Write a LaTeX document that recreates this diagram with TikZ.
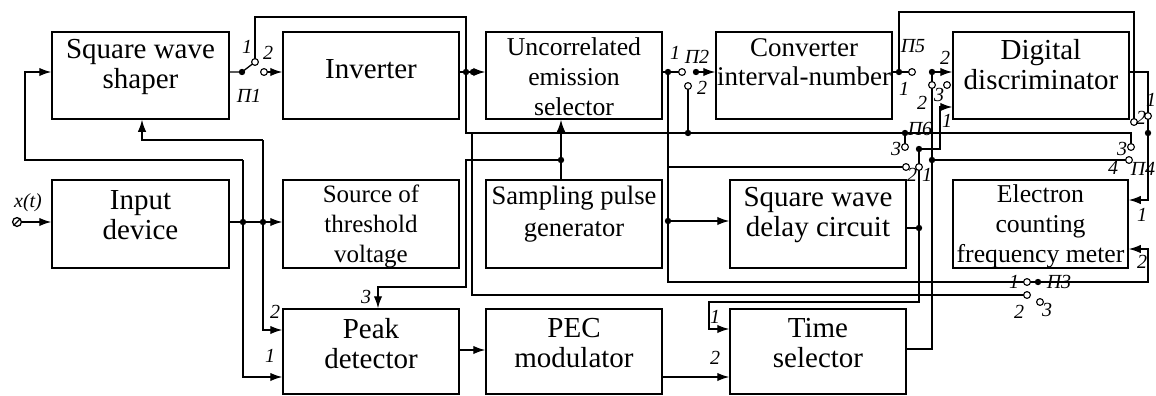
\documentclass[tikz,border=0pt]{standalone}
\usepackage{fontspec}
\setmainfont{Liberation Serif}
\usetikzlibrary{arrows.meta}
\begin{document}
\begin{tikzpicture}[x=0.5pt,y=-0.5pt,
  box/.style={draw,line width=0.75pt,inner sep=0pt},
  txt/.style={inner sep=0pt,align=center},
  big/.style={font=\fontsize{14.5}{15}\selectfont},
  wire/.style={line width=0.65pt},
  arr/.style={line width=0.65pt,-{Latex[length=6pt,width=4.2pt]}},
  lab/.style={inner sep=0pt,font=\fontsize{10}{10}\selectfont\itshape},
]
\useasboundingbox (0,0) rectangle (1156,396);
\fill[white] (0,0) rectangle (1156,396);
% ---------- boxes ----------
\node[box,minimum width=88.5pt,minimum height=43.5pt] (shaper) at (140.5,75.5) {};
\node[box,minimum width=88pt,minimum height=43.5pt] (inv) at (371,75.5) {};
\node[box,minimum width=88pt,minimum height=43.5pt] (unc) at (574,75.5) {};
\node[box,minimum width=88pt,minimum height=43.5pt] (conv) at (804,75.5) {};
\node[box,minimum width=88pt,minimum height=43.5pt] (disc) at (1041,75.5) {};
\node[box,minimum width=88.5pt,minimum height=44pt] (inp) at (140.5,224) {};
\node[box,minimum width=88pt,minimum height=44pt] (thr) at (371,224) {};
\node[box,minimum width=88pt,minimum height=44pt] (samp) at (574,224) {};
\node[box,minimum width=88pt,minimum height=44pt] (delay) at (818,224) {};
\node[box,minimum width=87.5pt,minimum height=44pt] (meter) at (1040.5,224) {};
\node[box,minimum width=88pt,minimum height=42.5pt] (peak) at (371,351.5) {};
\node[box,minimum width=88pt,minimum height=42.5pt] (pec) at (574,351.5) {};
\node[box,minimum width=88pt,minimum height=42.5pt] (tsel) at (818,351.5) {};
% ---------- box texts ----------
\node[txt,big] (tx1) at (140.5,67) {Square wave\\shaper};
\node[txt,big] (tx2) at (371,69) {Inverter};
\node[txt,font=\fontsize{12.85}{15}\selectfont] (tx3) at (574,76.5) {Uncorrelated\\emission\\selector};
\node[txt,font=\fontsize{13.5}{14.5}\selectfont] (tx4) at (804,62) {Converter\\interval-number};
\node[txt,big] (tx5) at (1041,64.5) {Digital\\discriminator};
\node[txt,big] (tx6) at (140.5,215) {Input\\device};
\node[txt,font=\fontsize{12.5}{15}\selectfont] (tx7) at (371,226) {Source of\\threshold\\voltage};
\node[txt,font=\fontsize{13.3}{16}\selectfont] (tx8) at (574,214) {Sampling pulse\\generator};
\node[txt,big] (tx9) at (818,215) {Square wave\\delay circuit};
\node[txt,font=\fontsize{12.85}{15}\selectfont] (tx10) at (1040.5,226.5) {Electron\\counting\\frequency meter};
\node[txt,big] (tx11) at (371,343.5) {Peak\\detector};
\node[txt,big] (tx12) at (574,343.5) {PEC\\modulator};
\node[txt,big] (tx13) at (818,343.5) {Time\\selector};
% ---------- points ----------
\coordinate (d1) at (242,72);
\coordinate (c1a) at (255,62);
\coordinate (c1b) at (264,72);
\coordinate (t1) at (255,17);
\coordinate (t2) at (466,17);
\coordinate (dI1) at (466,72);
\coordinate (dI2) at (473,72);
\coordinate (t3) at (466,133);
\coordinate (t4) at (1131,133);
\coordinate (c4c) at (1131,147);
\coordinate (t5) at (472,133);
\coordinate (c3b) at (1027,295);
\coordinate (dS) at (561,160);
\coordinate (t6) at (466,160);
\coordinate (t7) at (466,287);
\coordinate (t8) at (378,287);
\coordinate (term) at (17,222);
\coordinate (dIn1) at (243,222);
\coordinate (dIn2) at (263,222);
\coordinate (t9) at (243,160);
\coordinate (t10) at (25,160);
\coordinate (t11) at (25,72);
\coordinate (p1in) at (243,377);
\coordinate (t12) at (263,140);
\coordinate (t13) at (142,140);
\coordinate (p2in) at (263,330);
\coordinate (pecin) at (470,350);
\coordinate (tsin2) at (700,377);
\coordinate (dU) at (668,72);
\coordinate (c2a) at (682,72);
\coordinate (dP2) at (696,72);
\coordinate (c2b) at (688,86);
\coordinate (dP2b) at (688,133);
\coordinate (t14) at (668,282);
\coordinate (c3a) at (1027,282);
\coordinate (dX) at (668,221);
\coordinate (t15) at (668,167);
\coordinate (c6b) at (906,167);
\coordinate (d5) at (899,72);
\coordinate (c5a) at (912,72);
\coordinate (t16) at (899,12);
\coordinate (t17) at (1134,12);
\coordinate (c4b) at (1134,122);
\coordinate (d5b) at (932,72);
\coordinate (c5b) at (932,85);
\coordinate (c5c) at (947,85);
\coordinate (t18) at (932,349);
\coordinate (d7) at (932,160);
\coordinate (c4d) at (1129,160);
\coordinate (d6a) at (905,133);
\coordinate (c6c) at (905,147);
\coordinate (d6) at (919,149);
\coordinate (c6a) at (919,167);
\coordinate (t19) at (919,302);
\coordinate (t20) at (709,302);
\coordinate (t21) at (709,329);
\coordinate (d8) at (919,228);
\coordinate (t22) at (940,149);
\coordinate (t23) at (940,107);
\coordinate (t24) at (1148,72);
\coordinate (c4a) at (1148,116);
\coordinate (d4) at (1148,133);
\coordinate (t25) at (1148,200);
\coordinate (d3) at (1038,282);
\coordinate (c3c) at (1040,302);
\coordinate (t26) at (1148,282);
\coordinate (t27) at (1148,249);
% ---------- wires ----------
\draw[wire] (shaper.east |- d1) -- (d1) -- (c1a);
\draw[arr] (c1b) -- (inv.west |- c1b);
\draw[wire] (c1a) -- (t1) -- (t2) -- (t3) -- (t4) -- (c4c);
\draw[wire] (inv.east |- dI1) -- (dI2);
\draw[arr] (dI2) -- (unc.west |- dI2);
\draw[wire] (t5) -- (t5 |- c3b) -- (c3b);
\draw[arr] (dS |- samp.north) -- (dS |- unc.south);
\draw[arr] (dS) -- (t6) -- (t7) -- (t8) -- (t8 |- peak.north);
\draw[wire] (term) circle (2.2pt);
\draw[wire] ([shift={(-1.6pt,-1.6pt)}]term) -- ([shift={(1.6pt,1.6pt)}]term);
\draw[arr] ([xshift=2.2pt]term) -- (inp.west |- term);
\draw[wire] (inp.east |- dIn1) -- (dIn2);
\draw[arr] (dIn2) -- (thr.west |- dIn2);
\draw[arr] (t9) -- (t10) -- (t11) -- (shaper.west |- t11);
\draw[arr] (t9) -- (p1in) -- (peak.west |- p1in);
\draw[arr] (t12) -- (t13) -- (t13 |- shaper.south);
\draw[arr] (t12) -- (p2in) -- (peak.west |- p2in);
\draw[arr] (peak.east |- pecin) -- (pec.west |- pecin);
\draw[arr] (pec.east |- tsin2) -- (tsel.west |- tsin2);
\draw[wire] (unc.east |- dU) -- (c2a);
\draw[arr] (dP2) -- (conv.west |- dP2);
\draw[wire] (c2b) -- (dP2b);
\draw[wire] (dU) -- (t14) -- (c3a) -- (d3);
\draw[arr] (dX) -- (delay.west |- dX);
\draw[wire] (t15) -- (c6b);
\draw[wire] (conv.east |- d5) -- (c5a);
\draw[wire] (d5) -- (t16) -- (t17) -- (c4b);
\draw[arr] (d5b) -- (disc.west |- d5b);
\draw[wire] (d5b) -- (c5b) -- (t18) -- (tsel.east |- t18);
\draw[wire] (d7) -- (c4d);
\draw[wire] (d6a) -- (c6c);
\draw[arr] (d6) -- (c6a) -- (t19) -- (t20) -- (t21) -- (tsel.west |- t21);
\draw[wire] (delay.east |- d8) -- (d8);
\draw[arr] (d6) -- (t22) -- (t23) -- (disc.west |- t23);
\draw[arr] (disc.east |- t24) -- (t24) -- (t25) -- (meter.east |- t25);
\draw[arr] (d3) -- (t26) -- (t27) -- (meter.east |- t27);
% ---------- junction dots and contacts ----------
\foreach \p in {d1,dI1,dI2,dS,dIn1,dIn2,dU,dP2,dP2b,dX,d5,d5b,d6a,d6,d7,d8,d4,d3}
  \fill (\p) circle (1.6pt);
\foreach \p in {c1a,c1b,c2a,c2b,c5a,c5b,c5c,c6a,c6b,c6c,c4a,c4b,c4c,c4d,c3a,c3b,c3c}
  \draw[line width=0.55pt,fill=white] (\p) circle (1.7pt);
% ---------- labels ----------
\node[lab] (lA1) at (247,47) {1};
\node[lab] (lA2) at (268,53) {2};
\node[lab] (lA3) at (249,96) {П1};
\node[lab] (lB1) at (675,53) {1};
\node[lab] (lB2) at (697,57) {П2};
\node[lab] (lB3) at (702,88) {2};
\node[lab] (lC1) at (913,46) {П5};
\node[lab] (lC2) at (904,89) {1};
\node[lab] (lC3) at (945,58) {2};
\node[lab] (lC4) at (922,103) {2};
\node[lab] (lC5) at (939,95) {3};
\node[lab] (lD1) at (947,121) {1};
\node[lab] (lD2) at (920,129) {П6};
\node[lab] (lD3) at (896,149) {3};
\node[lab] (lD4) at (912,175) {2};
\node[lab] (lD5) at (927,175) {1};
\node[lab] (lE1) at (1141,118) {2};
\node[lab] (lE2) at (1151,100) {1};
\node[lab] (lE3) at (1122,149) {3};
\node[lab] (lE4) at (1113,168) {4};
\node[lab] (lE5) at (1143,169) {П4};
\node[lab] (lF1) at (1142,215) {1};
\node[lab] (lF2) at (1142,262) {2};
\node[lab] (lG1) at (1014,282) {1};
\node[lab] (lG2) at (1059,282) {П3};
\node[lab] (lG3) at (1019,312) {2};
\node[lab] (lG4) at (1047,310) {3};
\node[lab] (lH1) at (366,297) {3};
\node[lab] (lH2) at (275,312) {2};
\node[lab] (lH3) at (270,356) {1};
\node[lab] (lI1) at (715,317) {1};
\node[lab] (lI2) at (715,358) {2};
\node[lab] (lx) at (28,203) {x(t)};
\end{tikzpicture}
\end{document}
